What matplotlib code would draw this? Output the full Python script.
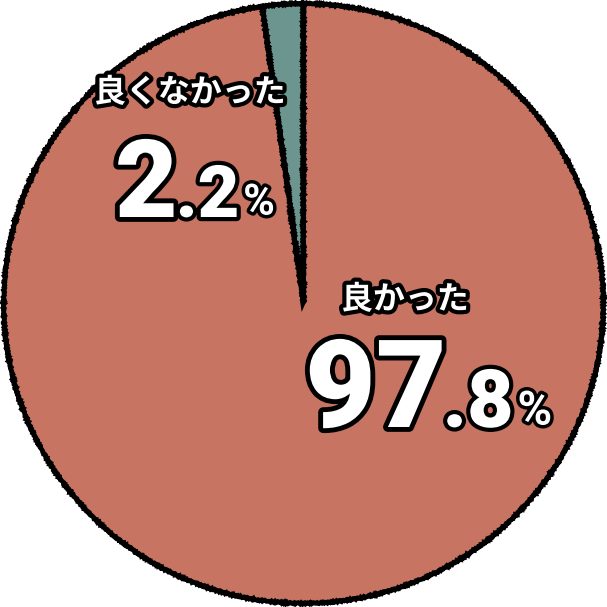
import numpy as np
import matplotlib
matplotlib.use('Agg')
from matplotlib import pyplot as plt, patheffects as pe

labels = ['良くなかった', '良かった']
values = [2.2, 97.8]
colors = ['#6c9590', '#c87462']

JP = ['Noto Sans CJK JP', 'DejaVu Sans']
NUM = ['Roboto', 'DejaVu Sans']

fig = plt.figure(figsize=(6.07, 6.07), dpi=100)
ax = fig.add_axes([0, 0, 1, 1])
wedges, _ = ax.pie(values, colors=colors, startangle=90, counterclock=True,
                   radius=1.0, wedgeprops=dict(edgecolor='black', linewidth=3.4))
for w in wedges:
	w.set_sketch_params(scale=0.7, length=3, randomness=2)
ax.set_xlim(-1.012, 1.012)
ax.set_ylim(-1.012, 1.012)
ax.set_aspect('equal')
ax.axis('off')

def stroke(lw):
	return [pe.withStroke(linewidth=lw, foreground='black')]

def label_block(x, y, title, value, sizes, title_xy, gap):
	''' big integer part, smaller decimal and percent sign, placed side by side '''
	whole, frac = f'{value:.1f}'.split('.')
	fig.text(title_xy[0], title_xy[1], title, fontsize=sizes[3], family=JP, weight='bold',
	         color='white', ha='center', va='center', path_effects=stroke(6))
	r = fig.canvas.get_renderer()
	t1 = fig.text(x, y, whole, fontsize=sizes[0], family=NUM, weight='black',
	              color='white', ha='left', va='baseline', path_effects=stroke(7))
	bb = t1.get_window_extent(r)
	x2 = (bb.x1 - gap) / fig.bbox.width
	t2 = fig.text(x2, y, '.' + frac, fontsize=sizes[1], family=NUM, weight='black',
	              color='white', ha='left', va='baseline', path_effects=stroke(6))
	bb = t2.get_window_extent(r)
	x3 = bb.x1 / fig.bbox.width + 0.006
	fig.text(x3, y + 0.004, '%', fontsize=sizes[2], family=NUM, weight='bold',
	         color='white', ha='left', va='baseline', path_effects=stroke(5))

label_block(115 / 607, 1 - 217 / 607, labels[0], values[0], (78, 52, 31, 23), (190 / 607, 1 - 93 / 607), 2)
label_block(305 / 607, 1 - 427 / 607, labels[1], values[1], (88, 58, 34, 23), (405 / 607, 1 - 300 / 607), 4)

plt.savefig('out.png', dpi=100)
